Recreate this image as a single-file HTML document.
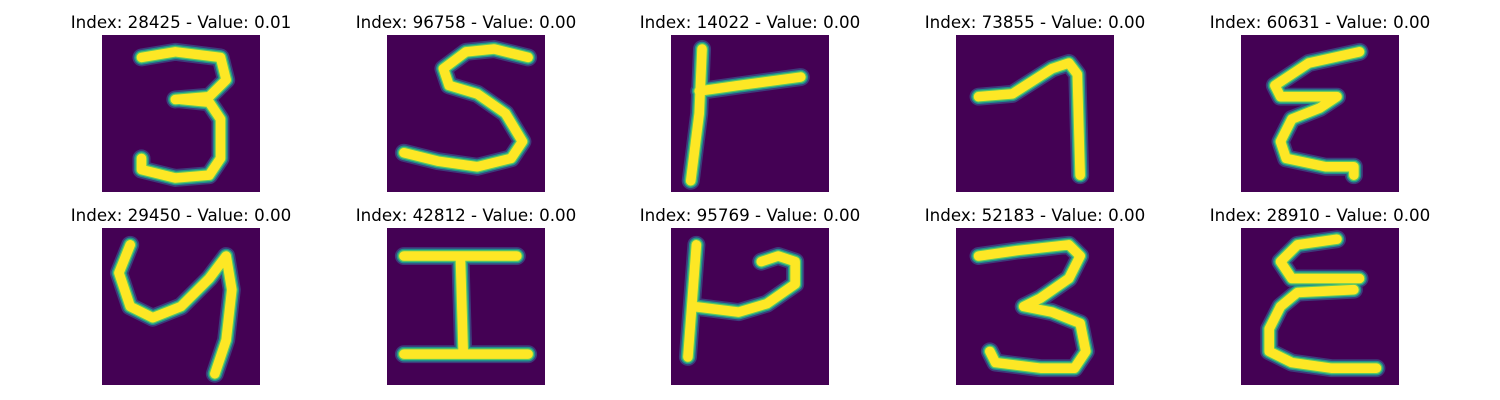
<!DOCTYPE html>
<html><head><meta charset="utf-8">
<style>
html,body{margin:0;padding:0;background:#fff;}
#wrap{position:relative;width:1500px;height:400px;overflow:hidden;font-family:"DejaVu Sans","Liberation Sans",sans-serif;}
.t{position:absolute;font-size:16.7px;color:#000;white-space:nowrap;transform:translateX(-50%);}
svg.im{position:absolute;width:158px;height:157px;}
</style></head>
<body>
<div id="wrap"></div>
<script>
const indices = [28425, 96758, 14022, 73855, 60631, 29450, 42812, 95769, 52183, 28910];
const values = [0.01, 0.00, 0.00, 0.00, 0.00, 0.00, 0.00, 0.00, 0.00, 0.00];
const strokes = [
 "M7,4 L13,3 L21,4 L22,8 L19,11 L13,11.5 M14,11.5 L19,12 L21,15 L21,22 L19,25 L13,25.5 L7,24 L7,22",
 "M25,4 L19,2.5 L14,3 L10,6 L11,9 L16,10.5 L21,14 L24,19 L22,22 L16,23.5 L9,22.5 L3,21",
 "M5.5,2.5 L5,14 L3.5,26 M5,10 L12,9 L23,7.5",
 "M4,11 L10,10.5 L17,6 L20,5 L21.5,7 L22,25",
 "M21,3 L12,5 L6,9 L7,11 L17,11 L14,13 L9,15 L7,19 L8,22 L15,23.5 L20,23.5 L20,25",
 "M5,3 L3,8 L5,14 L9,16 L14,14 L19,9 L22,5 L23,11 L22,20 L20,26",
 "M3,5 L23,5 M13,5 L13.5,22 M3,22.5 L25,22.5",
 "M4.5,3 L3,23 M4,14 L12,15 L17,13.5 L22,10 L22,6 L19,5 L16,6",
 "M4,5 L11,4 L20,3 L22,5 L20,9 L15,12.5 L12,14 L17,15 L22,17 L23,22 L21,25 L15,25 L7,24 L6,22",
 "M17,2 L10,3 L7,6 L9,9 L14,9 L21,9 M20,11 L10,11.5 L7,14 L5,18 L5,22 L9,24 L16,25 L24,25"
];
const colX = [102, 387, 671, 956, 1241];
const rowY = [35, 228];
const wrap = document.getElementById('wrap');
const NS = "http://www.w3.org/2000/svg";
for (let i = 0; i < indices.length; i++) {
  const x = colX[i % 5], y = rowY[Math.floor(i / 5)];
  const t = document.createElement('div');
  
  
  t.className = 't';
  t.style.left = (x + 79) + 'px';
  t.style.top = (y - 23) + 'px';
  t.textContent = 'Index: ' + indices[i] + ' - Value: ' + values[i].toFixed(2);
  wrap.appendChild(t);
  const s = document.createElementNS(NS, 'svg');
  
  
  s.setAttribute('class', 'im');
  s.setAttribute('viewBox', '0 0 28 28');
  s.setAttribute('preserveAspectRatio', 'none');
  s.style.left = x + 'px';
  s.style.top = y + 'px';
  const bg = document.createElementNS(NS, 'rect');
  
  
  bg.setAttribute('width', 28); bg.setAttribute('height', 28); bg.setAttribute('fill', '#440154');
  s.appendChild(bg);
  const layers = [["#3b528b", 3.2, 0.7], ["#21918c", 2.6, 1], ["#5ec962", 2.1, 1], ["#fde725", 1.7, 1]];
  for (const [c, w, o] of layers) {
    const p = document.createElementNS(NS, 'path');
    
    
    p.setAttribute('d', strokes[i]);
    p.setAttribute('fill', 'none');
    p.setAttribute('stroke', c);
    p.setAttribute('stroke-width', w);
    p.setAttribute('stroke-opacity', o);
    p.setAttribute('stroke-linecap', 'round');
    p.setAttribute('stroke-linejoin', 'round');
    s.appendChild(p);
  }
  wrap.appendChild(s);
}
</script>
</body></html>
